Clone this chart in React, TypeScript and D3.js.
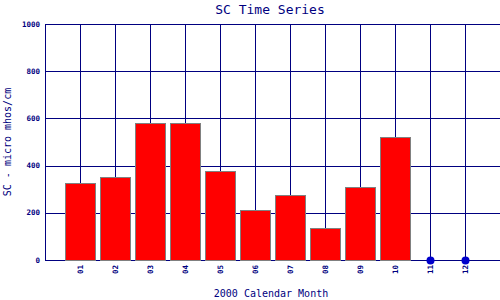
import React from "react";
import * as d3 from "d3";

const months = ["01", "02", "03", "04", "05", "06", "07", "08", "09", "10", "11", "12"];
const values: (number | null)[] = [325, 350, 579, 579, 376, 211, 275, 134, 308, 523, null, null];
const yTicks = [0, 200, 400, 600, 800, 1000];

const W = 500, H = 300;
const left = 45, right = 500, top = 24, bottom = 260;
const NAVY = "#000080";
const MONO = "'DejaVu Sans Mono', monospace";

export default function App() {
  const x = d3.scaleLinear().domain([0, 13]).range([left, right]);
  const y = d3.scaleLinear().domain([0, 1000]).range([bottom, top]);
  const bw = 30;
  const px = (v: number) => Math.round(v) + 0.5;
  return (
    <svg width={W} height={H} style={{ position: "absolute", left: 0, top: 0, background: "#fff" }}>
      <rect x={0} y={0} width={W} height={H} fill="#fff" />
      {yTicks.map((t) => (
        <line key={"h" + t} x1={left} x2={right} y1={px(y(t))} y2={px(y(t))} stroke={NAVY} strokeWidth={1} />
      ))}
      {months.map((m, i) => (
        <line key={"v" + m} x1={px(x(i + 1))} x2={px(x(i + 1))} y1={top} y2={bottom} stroke={NAVY} strokeWidth={1} />
      ))}
      <line x1={px(left)} x2={px(left)} y1={top} y2={bottom} stroke={NAVY} strokeWidth={1} />
      {values.map((v, i) =>
        v == null ? null : (
          <rect
            key={"b" + i}
            x={x(i + 1) - bw / 2 + 0.5}
            y={Math.round(y(v)) + 0.5}
            width={bw}
            height={Math.round(y(0)) - Math.round(y(v))}
            fill="#ff0000"
            stroke="#808080"
            strokeWidth={1}
          />
        )
      )}
      {values.map((v, i) =>
        v == null ? <circle key={"d" + i} cx={x(i + 1) + 0.5} cy={y(0) + 0.5} r={4} fill="#0000cc" /> : null
      )}
      {yTicks.map((t) => (
        <text
          key={"yl" + t}
          x={40}
          y={y(t)}
          textAnchor="end"
          dominantBaseline="central"
          fontFamily={MONO}
          fontWeight="bold"
          fontSize={7.5}
          fill={NAVY}
        >
          {t}
        </text>
      ))}
      {months.map((m, i) => (
        <text
          key={"xl" + m}
          transform={`translate(${x(i + 1)},265) rotate(-90)`}
          textAnchor="end"
          dominantBaseline="central"
          fontFamily={MONO}
          fontWeight="bold"
          fontSize={7.5}
          fill={NAVY}
        >
          {m}
        </text>
      ))}
      <text x={270} y={14} textAnchor="middle" fontFamily={MONO} fontSize={13} fill={NAVY}>
        SC Time Series
      </text>
      <text x={271} y={297} textAnchor="middle" fontFamily={MONO} fontSize={10} fill={NAVY}>
        2000 Calendar Month
      </text>
      <text
        transform={`translate(11,142) rotate(-90)`}
        textAnchor="middle"
        fontFamily={MONO}
        fontSize={10}
        fill={NAVY}
      >
        SC - micro mhos/cm
      </text>
    </svg>
  );
}
